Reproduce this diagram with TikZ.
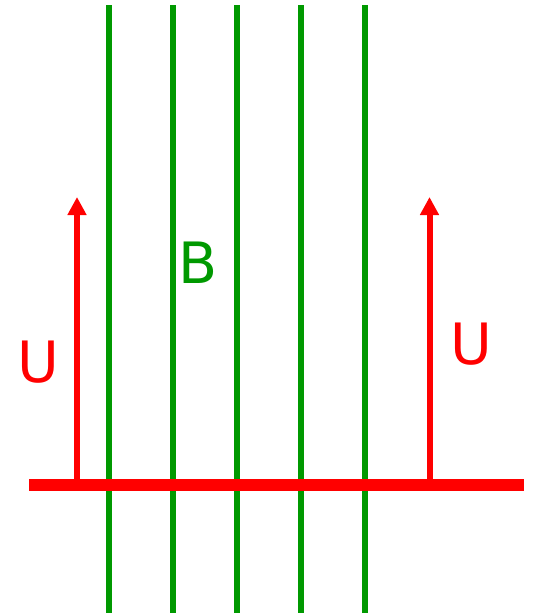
\documentclass[tikz,border=0pt]{standalone}
\usepackage{fontspec}
\setmainfont{DejaVu Sans}
\usetikzlibrary{arrows.meta}
\definecolor{fieldgreen}{RGB}{0,153,0}
\definecolor{wirered}{RGB}{255,0,0}
\tikzset{
    fieldline/.style={
        draw=fieldgreen, line width=6pt
    },
    rodline/.style={
        draw=wirered, line width=12pt
    },
    velarrow/.style={
        draw=wirered, line width=6pt,
        -{Triangle[width=18pt,length=18pt]}
    },
    biglabel/.style={
        font=\fontsize{57}{60}\selectfont, inner sep=0pt
    }
}
\begin{document}
\begin{tikzpicture}[x=1pt, y=-1pt]
    \useasboundingbox (0,0) rectangle (534,613);
    % Field lines
    \foreach \i in {0,...,4} {
        \pgfmathsetmacro{\xx}{109+\i*64}
        \coordinate (ft\i) at (\xx,5);
        \coordinate (fb\i) at (\xx,613);
        \draw[fieldline] (ft\i) -- (fb\i);
    }
    % Rod
    \coordinate (rl) at (29,485);
    \coordinate (rr) at (524,485);
    \draw[rodline] (rl) -- (rr);
    % Velocity arrows
    \coordinate (al) at (77,485);
    \coordinate (alt) at (77,197);
    \coordinate (ar) at (429.5,485);
    \coordinate (art) at (429.5,197);
    \draw[velarrow] (al) -- (alt);
    \draw[velarrow] (ar) -- (art);
    % Labels
    \node[biglabel, text=wirered] (ul) at (38,362) {U};
    \node[biglabel, text=wirered] (ur) at (471,344) {U};
    \node[biglabel, text=fieldgreen] (bl) at (198,263) {B};
\end{tikzpicture}
\end{document}
